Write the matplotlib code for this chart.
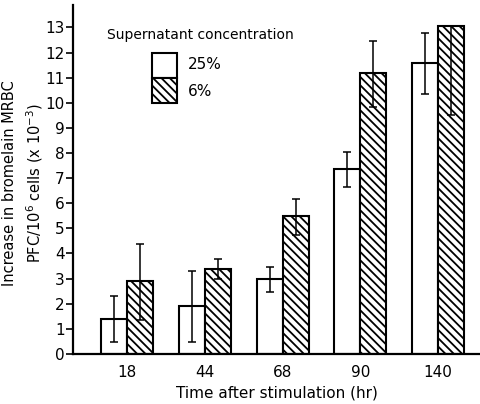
import matplotlib
matplotlib.use("Agg")
import matplotlib.pyplot as plt
from matplotlib.patches import Rectangle
import numpy as np

# data
times = ["18", "44", "68", "90", "140"]
conc_25 = [1.38, 1.91, 3.0, 7.35, 11.59]
err_25_lo = [0.89, 1.42, 0.55, 0.72, 1.25]
err_25_hi = [0.93, 1.39, 0.47, 0.69, 1.17]
conc_6 = [2.9, 3.38, 5.49, 11.17, 13.05]
err_6_lo = [1.55, 0.38, 0.76, 1.33, 3.55]
err_6_hi = [1.48, 0.41, 0.66, 1.30, 0.0]
legend_labels = ["25%", "6%"]

plt.rcParams['font.family'] = ['DejaVu Sans']
plt.rcParams['hatch.linewidth'] = 1.3

fig = plt.figure(figsize=(4.8, 4.04), dpi=100)
ax = fig.add_axes([0.152, 0.124, 0.848, 0.864])

x = np.arange(len(times))
w = 0.335
ax.bar(x - w/2, conc_25, w, color="white", edgecolor="black", linewidth=1.5)
ax.bar(x + w/2, conc_6, w, color="white", edgecolor="black", linewidth=1.5,
       hatch="\\\\\\\\")
ax.errorbar(x - w/2, conc_25, yerr=[err_25_lo, err_25_hi], fmt="none",
            ecolor="black", elinewidth=1.1, capsize=3, capthick=1.1)
ax.errorbar(x + w/2, conc_6, yerr=[err_6_lo, err_6_hi], fmt="none",
            ecolor="black", elinewidth=1.1, capsize=3, capthick=1.1)

ax.set_xlim(-0.70, 4.54)
ax.set_ylim(0, 13.9)
ax.set_yticks(range(0, 14))
ax.set_xticks(x)
ax.set_xticklabels(times)
ax.tick_params(axis="x", length=0, labelsize=11, pad=8)
ax.tick_params(axis="y", length=5, width=1.2, labelsize=11, pad=1)
for s in ["top", "right"]:
    ax.spines[s].set_visible(False)
for s in ["left", "bottom"]:
    ax.spines[s].set_linewidth(1.6)

ax.set_xlabel("Time after stimulation (hr)", fontsize=11, labelpad=4)
ax.set_ylabel("Increase in bromelain MRBC\nPFC/10$^6$ cells (x 10$^{-3}$)",
              fontsize=10.5, linespacing=1.45)
ax.yaxis.set_label_coords(-0.068, 0.49)

# legend drawn by hand
ax.text(0.083, 0.914, "Supernatant concentration", transform=ax.transAxes,
        fontsize=10, va="center", ha="left")
ax.add_patch(Rectangle((0.194, 0.791), 0.062, 0.071, transform=ax.transAxes,
                       facecolor="white", edgecolor="black", linewidth=1.5))
ax.add_patch(Rectangle((0.194, 0.719), 0.062, 0.072, transform=ax.transAxes,
                       facecolor="white", edgecolor="black", linewidth=1.5,
                       hatch="\\\\\\\\"))
ax.text(0.283, 0.828, legend_labels[0], transform=ax.transAxes, fontsize=11,
        va="center", ha="left")
ax.text(0.283, 0.751, legend_labels[1], transform=ax.transAxes, fontsize=11,
        va="center", ha="left")

fig.savefig("out.png", dpi=100)
